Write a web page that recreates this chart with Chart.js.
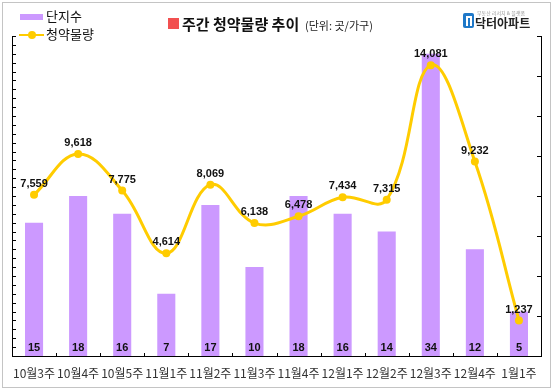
<!DOCTYPE html>
<html>
<head>
<meta charset="utf-8">
<script src="https://cdn.jsdelivr.net/npm/chart.js@4.4.0/dist/chart.umd.min.js"></script>
<style>
  body { margin: 0; background: #fff; }
  #wrap { position: relative; width: 553px; height: 390px; font-family: "Noto Sans CJK KR", sans-serif; }
  #frame { position: absolute; left: 2px; top: 2px; width: 547px; height: 384px; border: 1px solid #c4c4c4; }
  canvas { position: absolute; left: 0; top: 0; }
  .abs { position: absolute; white-space: nowrap; }
</style>
</head>
<body>
<div id="wrap">
  <div id="frame"></div>
  <canvas id="c" width="553" height="390"></canvas>

  <!-- legend -->
  <div class="abs" style="left:20px;top:14px;width:23px;height:6px;background:#cc99ff"></div>
  <div class="abs" style="left:46px;top:7px;font-size:13px;line-height:18px;color:#111">단지수</div>
  <div class="abs" style="left:19px;top:34px;width:25px;height:2px;background:#ffcc00"></div>
  <div class="abs" style="left:28px;top:31px;width:8px;height:8px;border-radius:50%;background:#ffcc00"></div>
  <div class="abs" style="left:46px;top:25px;font-size:13px;line-height:18px;color:#111">청약물량</div>

  <!-- title -->
  <div class="abs" style="left:168px;top:18px;width:11px;height:11px;background:#f25050"></div>
  <div class="abs" style="left:182px;top:14px;font-size:15px;line-height:20px;font-weight:bold;color:#111">주간 청약물량 추이</div>
  <div class="abs" style="left:305px;top:16px;font-size:11px;line-height:18px;color:#222">(단위: 곳/가구)</div>

  <!-- logo -->
  <div class="abs" style="left:463px;top:13px;width:11px;height:15px;background:#1e78c8;border-radius:2px"></div>
  <div class="abs" style="left:466px;top:16px;width:2px;height:10px;background:#fff"></div>
  <div class="abs" style="left:466px;top:16px;width:6px;height:2px;background:#fff"></div>
  <div class="abs" style="left:470px;top:16px;width:2px;height:10px;background:#fff"></div>
  <div class="abs" style="left:477px;top:10px;font-size:5px;line-height:6px;color:#999">부동산 리서치 &amp; 플랫폼</div>
  <div class="abs" style="left:475px;top:15px;font-size:12px;line-height:15px;font-weight:bold;color:#222">닥터아파트</div>
</div>

<script>
// weekly data
const weeks = ['10월3주', '10월4주', '10월5주', '11월1주', '11월2주', '11월3주', '11월4주', '12월1주', '12월2주', '12월3주', '12월4주', '1월1주'];
const complexCounts = [15, 18, 16, 7, 17, 10, 18, 16, 14, 34, 12, 5];
const supplyUnits = [7559, 9618, 7775, 4614, 8069, 6138, 6478, 7434, 7315, 14081, 9232, 1237];

const BAR_COLOR = '#cc99ff';
const LINE_COLOR = '#ffcc00';

// inward tick marks + value labels
const decorPlugin = {
    id: 'decor',
    afterDraw(chart) {
        const ctx = chart.ctx;
        const area = chart.chartArea;
        const { x, y, y1 } = chart.scales;
        ctx.save();
        ctx.strokeStyle = '#000';
        ctx.lineWidth = 1;
        ctx.beginPath();
        y.ticks.forEach(t => {
            const py = Math.round(y.getPixelForValue(t.value)) + 0.5;
            ctx.moveTo(area.left, py); ctx.lineTo(area.left + 4, py);
        });
        y1.ticks.forEach(t => {
            const py = Math.round(y1.getPixelForValue(t.value)) + 0.5;
            ctx.moveTo(area.right - 4, py); ctx.lineTo(area.right, py);
        });
        for (let i = 0; i < weeks.length - 1; i++) {
            const px = Math.round((x.getPixelForValue(i) + x.getPixelForValue(i + 1)) / 2) + 0.5;
            ctx.moveTo(px, area.bottom); ctx.lineTo(px, area.bottom - 3);
        }
        ctx.stroke();

        ctx.fillStyle = '#111';
        ctx.font = 'bold 11px "Liberation Sans", Arial, sans-serif';
        ctx.textAlign = 'center';
        ctx.textBaseline = 'middle';
        chart.getDatasetMeta(0).data.forEach((bar, i) => {
            ctx.fillText(String(complexCounts[i]), bar.x, area.bottom - 8);
        });
        chart.getDatasetMeta(1).data.forEach((pt, i) => {
            ctx.fillText(supplyUnits[i].toLocaleString('en-US'), pt.x, pt.y - 11);
        });
        ctx.restore();
    }
};

new Chart(document.getElementById('c'), {
    data: {
        labels: weeks,
        datasets: [
            {
                type: 'bar',
                label: '단지수',
                data: complexCounts,
                yAxisID: 'y',
                backgroundColor: BAR_COLOR,
                barPercentage: 0.41,
                categoryPercentage: 1,
                order: 2,
            },
            {
                type: 'line',
                label: '청약물량',
                data: supplyUnits,
                yAxisID: 'y1',
                borderColor: LINE_COLOR,
                borderWidth: 3,
                tension: 0.4,
                pointRadius: 4,
                pointBackgroundColor: LINE_COLOR,
                pointBorderWidth: 0,
                order: 1,
            }
        ]
    },
    options: {
        responsive: false,
        animation: false,
        layout: { padding: { left: 12, right: 12, top: 36, bottom: 0 } },
        plugins: { legend: { display: false }, tooltip: { enabled: false } },
        scales: {
            x: {
                grid: { display: false, drawTicks: false },
                border: { display: true, color: '#000', width: 1 },
                ticks: {
                    color: '#333',
                    padding: 10,
                    maxRotation: 0,
                    autoSkip: false,
                    font: { family: '"Noto Sans CJK KR", sans-serif', size: 12 }
                },
                afterFit: (scale) => { scale.height = 34; }
            },
            y: {
                position: 'left',
                min: 0,
                max: 36,
                grid: { display: false, drawTicks: false },
                border: { display: true, color: '#000', width: 1 },
                ticks: { display: false, stepSize: 1 }
            },
            y1: {
                position: 'right',
                min: -550,
                max: 15550,
                grid: { display: false, drawTicks: false },
                border: { display: true, color: '#000', width: 1 },
                ticks: { display: false },
                afterBuildTicks: (scale) => {
                    const step = (scale.max - scale.min) / 8;
                    scale.ticks = Array.from({ length: 9 }, (_, i) => ({ value: scale.min + i * step }));
                }
            }
        }
    },
    plugins: [decorPlugin]
});
</script>
</body>
</html>
